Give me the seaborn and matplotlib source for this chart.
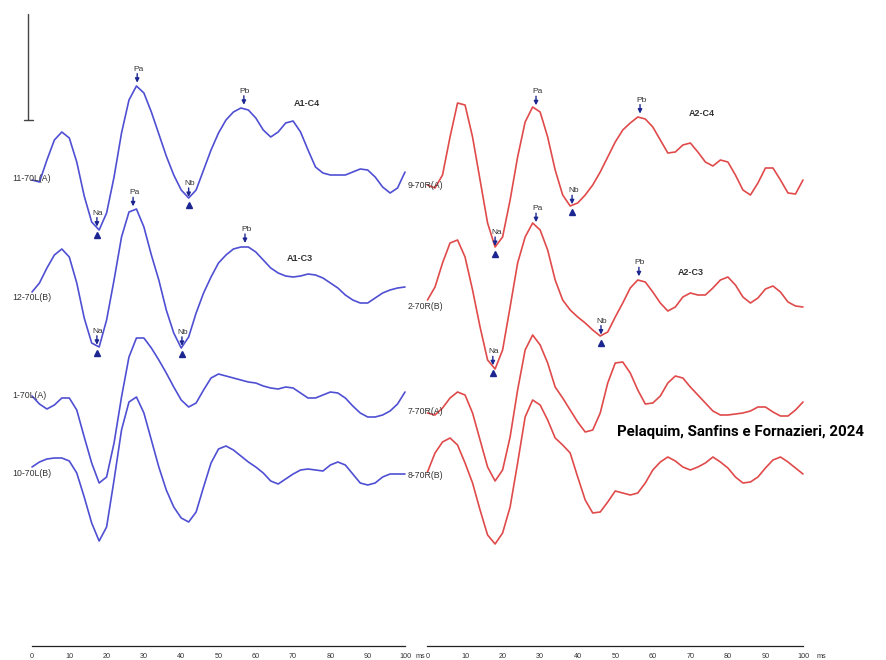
import numpy as np
import matplotlib
matplotlib.use("Agg")
import matplotlib.pyplot as plt
import seaborn as sns

# time axis (ms), sampled every 2 ms
ms = np.arange(0, 101, 2)

# left ear traces (blue), amplitude, up = positive
amp_11_70L_A = [-2, -4, 18, 38, 46, 40, 16, -18, -44, -52, -35, 1, 45, 78, 92, 85, 66, 44, 22, 3, -12,
                -20, -12, 8, 28, 45, 58, 66, 70, 68, 60, 48, 41, 46, 55, 57, 46, 28, 11, 5, 3,
                3, 3, 6, 9, 8, 1, -9, -15, -10, 6]
amp_12_70L_B = [6, 15, 30, 43, 49, 41, 15, -20, -45, -49, -22, 18, 61, 86, 89, 71, 43, 18, -12, -35, -50,
                -39, -15, 5, 21, 35, 43, 49, 51, 51, 46, 38, 30, 25, 22, 21, 22, 24, 23, 20, 15,
                10, 3, -2, -5, -5, 0, 5, 8, 10, 11]
amp_1_70L_A = [-1, -9, -14, -10, -3, -3, -15, -42, -68, -88, -82, -48, -2, 38, 57, 57, 47, 35, 22, 8, -5,
               -12, -8, 5, 17, 21, 19, 17, 15, 13, 12, 9, 7, 6, 8, 7, 2, -3, -3, 0, 3,
               2, -3, -11, -18, -22, -22, -20, -16, -9, 3]
amp_10_70L_B = [6, 11, 14, 15, 15, 12, 0, -24, -50, -68, -54, -7, 43, 71, 76, 60, 33, 6, -17, -34, -45,
                -49, -39, -14, 10, 24, 27, 23, 17, 11, 6, 0, -8, -11, -6, -1, 3, 4, 3, 2, 8,
                11, 8, -1, -10, -12, -10, -4, -1, -1, -1]

# right ear traces (red)
amp_9_70R_A = [0, -3, 10, 48, 82, 80, 48, 5, -38, -62, -52, -15, 28, 63, 78, 73, 48, 15, -10, -21, -18,
               -10, 0, 13, 28, 43, 55, 62, 68, 66, 58, 45, 32, 33, 40, 42, 33, 23, 19, 25, 23,
               10, -5, -10, 2, 17, 17, 5, -8, -9, 5]
amp_2_70R_B = [7, 20, 44, 64, 67, 50, 17, -20, -53, -62, -43, 0, 44, 70, 84, 77, 57, 27, 7, -3, -10,
               -16, -23, -29, -25, -10, 4, 19, 27, 25, 15, 4, -4, 0, 10, 14, 12, 12, 19, 27, 30,
               22, 10, 4, 9, 18, 21, 15, 5, 1, 0]
amp_7_70R_A = [-1, -3, 4, 14, 20, 17, -1, -28, -55, -69, -58, -25, 22, 62, 77, 67, 49, 25, 14, 2, -10,
               -20, -18, -1, 29, 49, 50, 39, 22, 8, 9, 16, 29, 36, 34, 25, 17, 9, 1, -3, -3,
               -2, -1, 1, 5, 5, 0, -4, -4, 2, 10]
amp_8_70R_B = [4, 23, 34, 38, 31, 13, -7, -34, -59, -68, -57, -31, 13, 59, 76, 71, 56, 38, 31, 23, -1,
               -24, -37, -36, -26, -15, -17, -19, -17, -7, 6, 14, 19, 15, 9, 6, 9, 13, 19, 14, 8,
               -1, -7, -6, -1, 8, 16, 19, 14, 8, 2]

left_names = ["11-70L(A)", "12-70L(B)", "1-70L(A)", "10-70L(B)"]
right_names = ["9-70R(A)", "2-70R(B)", "7-70R(A)", "8-70R(B)"]
left_traces = [amp_11_70L_A, amp_12_70L_B, amp_1_70L_A, amp_10_70L_B]
right_traces = [amp_9_70R_A, amp_2_70R_B, amp_7_70R_A, amp_8_70R_B]

# marked latencies (ms)
peak_names = ["Na", "Pa", "Nb", "Pb"]
lat_11_70L_A = [17.4, 28.2, 42.0, 56.8]
lat_12_70L_B = [17.4, 27.1, 40.2, 57.1]
lat_9_70R_A = [18.0, 28.9, 38.5, 56.6]
lat_2_70R_B = [17.4, 28.9, 46.2, 56.3]

montage_left = ["A1-C4", "A1-C3"]
montage_right = ["A2-C4", "A2-C3"]

W, H = 887, 660
blue = "#4f4fd3"
red = "#e04a4a"
navy = "#1c2690"
txt = "#333333"

sns.set_style("white")
plt.rcParams["font.family"] = ["Liberation Sans", "DejaVu Sans"]
fig = plt.figure(figsize=(W / 100, H / 100), dpi=100)


def make_panel(px0, px1, zero_px, px_per_ms):
    ax = fig.add_axes([px0 / W, 0, (px1 - px0) / W, 1])
    ax.set_xlim((px0 - zero_px) / px_per_ms, (px1 - zero_px) / px_per_ms)
    ax.set_ylim(H, 0)  # vertical unit = one pixel row
    for s in ["top", "left", "right"]:
        ax.spines[s].set_visible(False)
    ax.spines["bottom"].set_position(("data", 646))
    ax.spines["bottom"].set_bounds(0, 100)
    ax.spines["bottom"].set_linewidth(0.9)
    ax.spines["bottom"].set_color("#222222")
    ax.set_xticks(np.arange(0, 101, 10))
    ax.tick_params(axis="x", direction="out", length=4, width=0.8, color="#222222",
                   labelsize=5.2, labelcolor=txt, pad=1)
    ax.set_yticks([])
    ax.patch.set_alpha(0)
    return ax


axL = make_panel(0, 415, 32, 3.73)
axR = make_panel(415, 887, 427.5, 3.755)

base_left = [178, 298, 395, 473]
base_right = [185, 307, 412, 476]


def draw_traces(ax, traces, bases, color):
    for amp, b in zip(traces, bases):
        sns.lineplot(x=ms, y=b - np.array(amp), ax=ax, color=color, linewidth=1.2,
                     solid_joinstyle="round")


draw_traces(axL, left_traces, base_left, blue)
draw_traces(axR, right_traces, base_right, red)


def mark_peaks(ax, amp, base, lats):
    for name, t in zip(peak_names, lats):
        y = base - np.interp(t, ms, amp)
        trough = name.startswith("N")
        tip = y - 1 if trough else y - 4
        ax.annotate("", xy=(t, tip), xytext=(t, tip - 9),
                    arrowprops=dict(arrowstyle="-|>", color=navy, lw=1.0, mutation_scale=6,
                                    shrinkA=0, shrinkB=0))
        ax.text(t + 0.3, tip - 10, name, fontsize=6, color=txt, ha="center", va="bottom")
        if trough:
            ax.plot(t, y + 7, marker="^", markersize=5, color=navy, linestyle="none")


mark_peaks(axL, amp_11_70L_A, base_left[0], lat_11_70L_A)
mark_peaks(axL, amp_12_70L_B, base_left[1], lat_12_70L_B)
mark_peaks(axR, amp_9_70R_A, base_right[0], lat_9_70R_A)
mark_peaks(axR, amp_2_70R_B, base_right[1], lat_2_70R_B)

# trace names
for name, b in zip(left_names, base_left):
    fig.text(12 / W, 1 - b / H, name, fontsize=6.3, color=txt, va="center", ha="left")
for name, b in zip(right_names, base_right):
    fig.text(408 / W, 1 - b / H, name, fontsize=6.3, color=txt, va="center", ha="left")

# montage labels
for name, (x, y) in zip(montage_left, [(294, 104), (287, 259)]):
    fig.text(x / W, 1 - y / H, name, fontsize=6.5, fontweight="bold", color=txt, va="center")
for name, (x, y) in zip(montage_right, [(689, 114), (678, 273)]):
    fig.text(x / W, 1 - y / H, name, fontsize=6.5, fontweight="bold", color=txt, va="center")

# "ms" unit labels
fig.text(416 / W, 1 - 656 / H, "ms", fontsize=5.2, color=txt, va="center")
fig.text(817 / W, 1 - 656 / H, "ms", fontsize=5.2, color=txt, va="center")

# amplitude scale bar
fig.add_artist(plt.Line2D([28 / W, 28 / W], [1 - 14 / H, 1 - 120 / H], color="#444444", lw=1))
fig.add_artist(plt.Line2D([24 / W, 33 / W], [1 - 120 / H, 1 - 120 / H], color="#444444", lw=1))

fig.text(617 / W, 1 - 432 / H, "Pelaquim, Sanfins e Fornazieri, 2024", fontsize=10.8,
         fontweight="bold", color="black", va="center", family=["Roboto", "DejaVu Sans"])

plt.savefig("out.png", dpi=100)
